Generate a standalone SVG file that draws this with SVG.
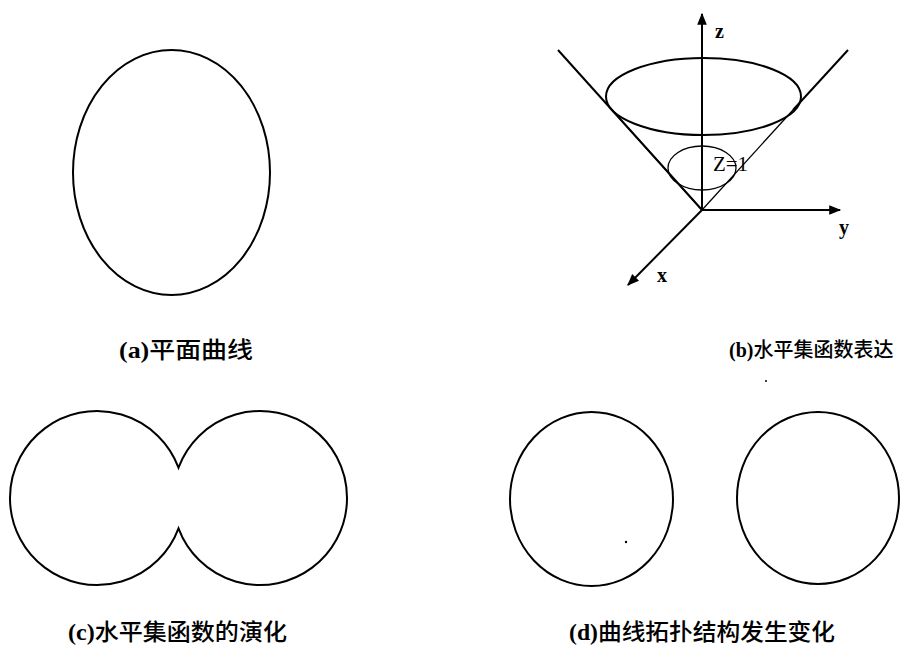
<svg xmlns="http://www.w3.org/2000/svg" width="902" height="650" viewBox="0 0 902 650">
<style>
.c{fill:none;stroke:#000;stroke-width:2}
.t{fill:none;stroke:#000;stroke-width:1.3}
.ax{fill:none;stroke:#000;stroke-width:2}
.lbl{font-family:"Noto Sans CJK SC","Liberation Serif",sans-serif;font-size:23px;font-weight:500;fill:#000}
.lat{font-family:"Liberation Serif",serif;font-weight:bold}
.axl{font-family:"Liberation Serif",serif;font-weight:bold;font-size:20px;fill:#000}
</style>
<defs>
<marker id="arw" viewBox="0 0 10 10" refX="9" refY="5" markerWidth="14" markerHeight="12" orient="auto" markerUnits="userSpaceOnUse">
<path d="M0,1 L10,5 L0,9 Z" fill="#000"/>
</marker>
</defs>
<rect width="902" height="650" fill="#fff"/>

<g id="a-curve">
<ellipse class="c" cx="171.5" cy="172.5" rx="98.5" ry="122.5"/>
</g>
<g id="a-label">
<text class="lbl" x="119" y="358" textLength="134" lengthAdjust="spacingAndGlyphs"><tspan class="lat">(a)</tspan>平面曲线</text>
</g>

<g id="b-cone">
<ellipse class="c" cx="703.5" cy="96.5" rx="97.5" ry="38.5"/>
<ellipse class="t" cx="702" cy="168" rx="34" ry="22"/>
<line class="c" x1="558" y1="50" x2="702" y2="210"/>
<line class="c" x1="848" y1="50" x2="793" y2="110"/>
<line class="t" x1="793" y1="110" x2="702" y2="210"/>
<line class="t" x1="612" y1="110" x2="702" y2="210"/>
<text x="713" y="171" font-family="Liberation Serif, serif" font-size="20" fill="#000" textLength="35" lengthAdjust="spacingAndGlyphs">Z=1</text>
</g>
<g id="b-axes">
<line class="ax" x1="702" y1="210" x2="702" y2="14" marker-end="url(#arw)"/>
<line class="ax" x1="702" y1="210" x2="840" y2="210" marker-end="url(#arw)"/>
<line class="ax" x1="702" y1="210" x2="628" y2="285" marker-end="url(#arw)"/>
<text class="axl" x="715" y="38">z</text>
<text class="axl" x="839" y="234">y</text>
<text class="axl" x="657" y="282">x</text>
</g>
<g id="b-label">
<text class="lbl" x="729" y="357" style="font-size:20px"><tspan class="lat">(b)</tspan>水平集函数表达</text>
</g>

<g id="c-curve">
<path class="c" d="M178.5,467.6 A87,87 0 1 0 178.5,528.4 A87,87 0 1 0 178.5,467.6 Z"/>
</g>
<g id="c-label">
<text class="lbl" x="68" y="640" textLength="219" lengthAdjust="spacingAndGlyphs"><tspan class="lat">(c)</tspan>水平集函数的演化</text>
</g>

<g id="d-curves">
<ellipse class="c" cx="591.5" cy="499" rx="81.5" ry="87"/>
<ellipse class="c" cx="818" cy="498" rx="81" ry="86"/>
</g>
<g id="d-label">
<text class="lbl" x="569" y="640" textLength="266" lengthAdjust="spacingAndGlyphs"><tspan class="lat">(d)</tspan>曲线拓扑结构发生变化</text>
</g>

<g id="specks">
<circle cx="626" cy="542" r="1.2" fill="#000"/>
<circle cx="766" cy="381" r="1" fill="#000"/>
</g>
</svg>
